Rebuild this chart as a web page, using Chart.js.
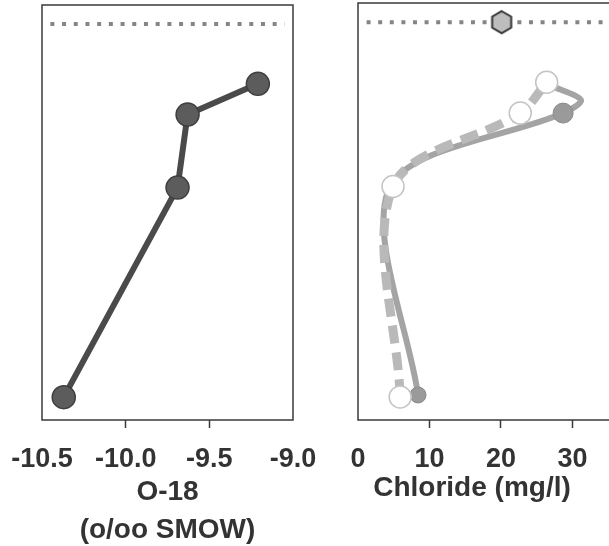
<!DOCTYPE html>
<html><head><meta charset="utf-8">
<script src="https://cdn.jsdelivr.net/npm/chart.js@4"></script>
<style>
html,body{margin:0;padding:0;background:#fff;overflow:hidden;width:609px;height:546px;position:relative}
.panel{position:absolute;top:0;height:560px}
#p1{left:0;width:330px}
#p2{left:330px;width:290px}
</style></head><body>
<div class="panel" id="p1"><canvas id="c1"></canvas></div>
<div class="panel" id="p2"><canvas id="c2"></canvas></div>
<script>
// depth levels (relative, bottom = 0)
const depth=[5.5,56,73.6,81];
const o18=[-10.37,-9.69,-9.63,-9.21];
const clOpen=[5.9,4.9,22.7,26.4];
const solidDepth=[6,56,73.6,76.7,80.1];
const clSolid=[8.4,4.5,28.7,31.2,27.1];
const surface=95.4;
const hexCl=20.1;
const o18Ticks=[-10.5,-10.0,-9.5,-9.0];
const clTicks=[0,10,20,30];

Chart.defaults.font.family="'Liberation Sans', Arial, sans-serif";
Chart.defaults.color='#333';

const pts=(xs,ys)=>ys.map((d,i)=>({x:xs[i],y:d}));

function hexImg(r){
    const c=document.createElement('canvas');const s=r*2+4;c.width=s;c.height=s;
    const g=c.getContext('2d');g.beginPath();
    for(let i=0;i<6;i++){const a=Math.PI/3*i-Math.PI/2;const px=s/2+r*Math.cos(a),py=s/2+r*Math.sin(a);i?g.lineTo(px,py):g.moveTo(px,py);}
    g.closePath();g.fillStyle='#bdbdbd';g.fill();g.lineWidth=2;g.strokeStyle='#333';g.stroke();
    return c;
}

// frame round the plot; the chloride panel runs off the right edge of the figure
const boxPlugin={id:'box',afterDraw(c,args,o){const a=c.chartArea,x=c.ctx;x.save();x.strokeStyle='#3a3a3a';x.lineWidth=1.5;
    if(o.open){const r=c.width;x.beginPath();x.moveTo(r,a.top);x.lineTo(a.left,a.top);x.lineTo(a.left,a.bottom);x.lineTo(r,a.bottom);x.stroke();}
    else x.strokeRect(a.left,a.top,a.right-a.left,a.bottom-a.top);
    x.restore();}};

function xAxis(min,max,ticks,title,titlePad){
    return {type:'linear',min:min,max:max,
        afterBuildTicks:a=>{a.ticks=ticks.map(v=>({value:v}));},
        afterFit:a=>{a.height=140;a.paddingLeft=0;a.paddingRight=0;},
        grid:{drawOnChartArea:false,drawTicks:true,tickLength:8,tickWidth:1.5,
            tickColor:c=>(c.tick&&(c.tick.value===min||c.tick.value===max))?'transparent':'#3a3a3a'},
        border:{display:false},
        ticks:{padding:15,font:{size:27,weight:'bold'},color:'#333',maxRotation:0,
            callback:v=>min<0?Number(v).toFixed(1):v},
        title:{display:true,text:title,font:{size:28,weight:'bold',lineHeight:1.35},color:'#333',padding:{top:0,bottom:titlePad}}};
}
const yAxis={type:'linear',display:false,min:0,max:100};
const common={animation:false,responsive:true,maintainAspectRatio:false};

new Chart(document.getElementById('c1'),{type:'line',
    data:{datasets:[
        {data:pts(o18,depth),borderColor:'#4a4a4a',borderWidth:6,tension:0,pointRadius:11.5,clip:false,
         pointBackgroundColor:'#5c5c5c',pointBorderColor:'#3e3e3e',pointBorderWidth:1.5,order:0},
        {data:[{x:-10.45,y:surface},{x:-9.05,y:surface}],borderColor:'#858585',borderWidth:4,borderDash:[4,7.7],pointRadius:0,clip:false,order:1}
    ]},
    options:{...common,layout:{autoPadding:false,padding:{left:42,right:37,top:5,bottom:0}},
        plugins:{legend:{display:false},tooltip:{enabled:false},box:{open:false}},
        scales:{x:xAxis(-10.5,-9.0,o18Ticks,['O-18','(o/oo SMOW)'],11),y:yAxis}},
    plugins:[boxPlugin]});

new Chart(document.getElementById('c2'),{type:'line',
    data:{datasets:[
        {data:[{x:hexCl,y:surface}],showLine:false,pointStyle:hexImg(11),pointRadius:11,clip:false,order:0},
        {data:pts(clOpen,depth),borderColor:'#b9b9b9',borderWidth:9,borderDash:[18,9],tension:0.33,pointRadius:11,clip:false,
         pointBackgroundColor:'#ffffff',pointBorderColor:'#c4c4c4',pointBorderWidth:1.5,order:1},
        {data:pts(clSolid,solidDepth),borderColor:'#a4a4a4',borderWidth:6,tension:0.3,pointRadius:[8,0,10,0,0],clip:false,
         pointBackgroundColor:'#9a9a9a',pointBorderColor:'#8a8a8a',pointBorderWidth:1,order:2},
        {data:[{x:1.2,y:surface},{x:35.5,y:surface}],borderColor:'#858585',borderWidth:4,borderDash:[4,7.6],pointRadius:0,clip:false,order:3}
    ]},
    options:{...common,layout:{autoPadding:false,padding:{left:28,right:34,top:3,bottom:0}},
        plugins:{legend:{display:false},tooltip:{enabled:false},box:{open:true}},
        scales:{x:xAxis(0,31.9,clTicks,'Chloride (mg/l)',53),y:yAxis}},
    plugins:[boxPlugin]});
</script>
</body></html>
